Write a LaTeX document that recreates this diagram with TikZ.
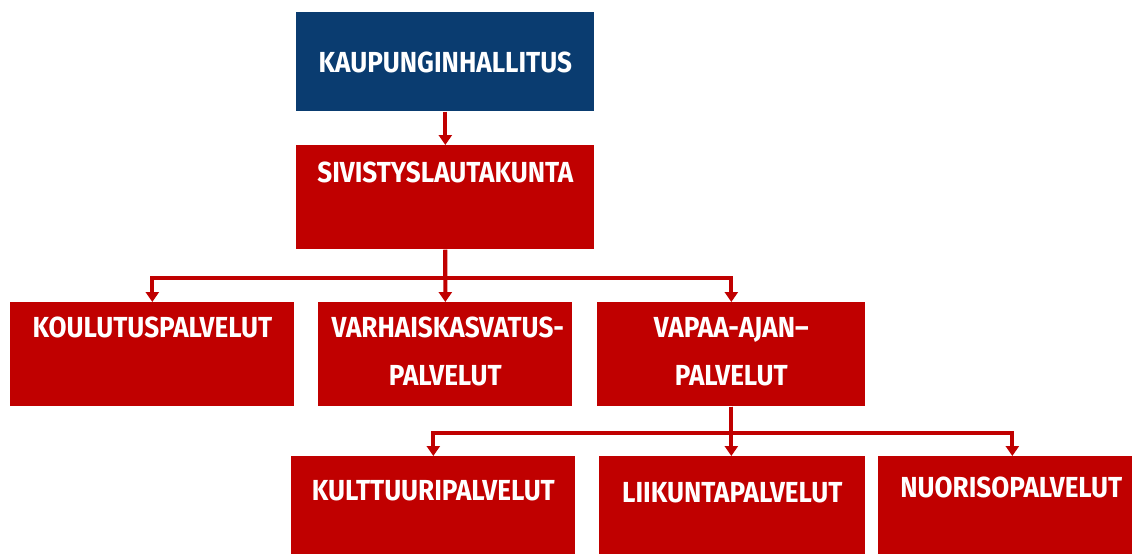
\documentclass[tikz,border=0pt]{standalone}
\usepackage{fontspec}
\setmainfont{Fira Sans}[FakeStretch=0.9]
\usetikzlibrary{arrows.meta}
\definecolor{khblue}{RGB}{10,60,112}
\definecolor{orgred}{RGB}{192,0,0}

\begin{document}
\begin{tikzpicture}[x=0.02cm, y=-0.02cm,
    box/.style={draw=none, fill=orgred, text=white, inner sep=0pt, anchor=north west, align=center, font=\bfseries\fontsize{16.5}{27.3}\selectfont},
    link/.style={draw=orgred, line width=2.3pt},
    arr/.style={link, -{Triangle[width=0.26cm, length=0.2cm]}}]
            \useasboundingbox (0,0) rectangle (1132,554);
            \node[box, fill=khblue, minimum width=5.96cm, text height=1.2cm, text depth=0.78cm] (khall) at (296,12) {KAUPUNGINHALLITUS};
            \node[box, minimum width=5.96cm, text height=0.74cm, text depth=1.34cm] (slauta) at (296,145) {SIVISTYSLAUTAKUNTA};
            \node[box, minimum width=5.68cm, text height=0.7cm, text depth=1.38cm] (koulu) at (10,302) {KOULUTUSPALVELUT};
            \node[box, minimum width=5.08cm, text height=1.66cm, text depth=0.42cm] (varhais) at (318,302) {\hspace{0.1cm}VARHAISKASVATUS-\\PALVELUT};
            \node[box, minimum width=5.36cm, text height=1.66cm, text depth=0.42cm] (vapaa) at (597,302) {VAPAA-AJAN–\\PALVELUT};
            \node[box, minimum width=5.68cm, text height=0.88cm, text depth=1.08cm] (kulttuuri) at (291,456) {KULTTUURIPALVELUT};
            \node[box, minimum width=5.32cm, text height=0.92cm, text depth=1.04cm] (liikunta) at (599,456) {LIIKUNTAPALVELUT};
            \node[box, minimum width=5.08cm, text height=0.82cm, text depth=1.14cm] (nuoriso) at (878,456) {\hspace{0.24cm}NUORISOPALVELUT};
            
            \draw[arr] (khall) -- (slauta);
            \draw[arr] (slauta.south) -- ++(0,28) -| (koulu.north);
            \draw[arr] (slauta.south) -- (varhais.north);
            \draw[arr] (slauta.south) -- ++(0,28) -| (vapaa.north);
            \draw[arr] (vapaa.south) -- ++(0,26) -| (kulttuuri.north);
            \draw[arr] (vapaa.south) -- (vapaa.south |- liikunta.north);
            \draw[arr] (vapaa.south) -- ++(0,26) -| ([xshift=0.14cm]nuoriso.north);
        \end{tikzpicture}
\end{document}
